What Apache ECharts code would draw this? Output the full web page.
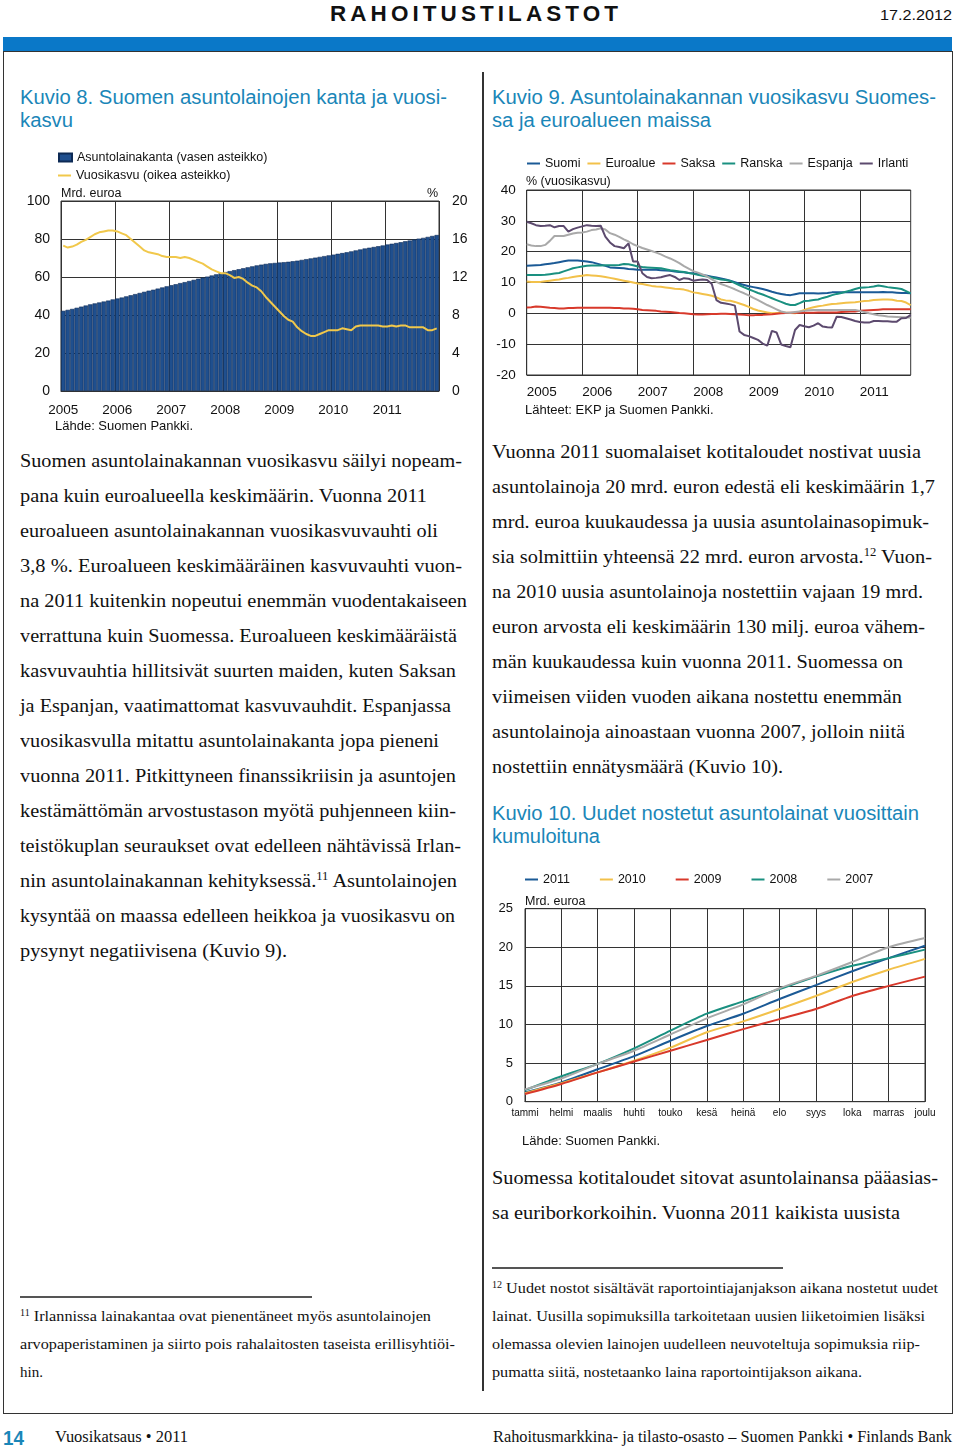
<!DOCTYPE html>
<html><head><meta charset="utf-8">
<script src="https://cdn.jsdelivr.net/npm/echarts@6/dist/echarts.min.js"></script>
<style>
html,body{margin:0;padding:0;background:#fff;}
#page{position:relative;width:960px;height:1450px;overflow:hidden;background:#fff;}
.ln{position:absolute;white-space:nowrap;transform-origin:0 50%;color:#111;}
.hdr{font-family:'Liberation Sans',Arial,sans-serif;font-weight:bold;font-size:22px;letter-spacing:4px;color:#111;}
.date{font-family:'Liberation Sans',Arial,sans-serif;font-size:15px;}
.ttl{font-family:'Liberation Sans',Arial,sans-serif;font-size:19.5px;color:#1a86b8;}
.body{font-family:'Liberation Serif','Times New Roman',serif;font-size:19.5px;}
.fn{font-family:'Liberation Serif','Times New Roman',serif;font-size:15px;}
.foot{font-family:'Liberation Serif','Times New Roman',serif;font-size:17px;}
.pgno{font-family:'Liberation Sans',Arial,sans-serif;font-weight:bold;font-size:21px;color:#1a86b8;}
sup{font-size:0.62em;vertical-align:0.55em;line-height:0;}
.chart{position:absolute;}
</style></head>
<body><div id="page">
<div style="position:absolute;left:3px;top:37px;width:949px;height:15px;background:#0a78c8;"></div>
<div style="position:absolute;left:3px;top:51px;width:950px;height:1363px;border:1px solid #333;box-sizing:border-box;"></div>
<div style="position:absolute;left:482px;top:72px;width:1.5px;height:1319px;background:#333;"></div>
<div style="position:absolute;left:20px;top:1296px;width:292px;height:1.5px;background:#555;"></div>
<div style="position:absolute;left:492px;top:1267px;width:291px;height:1.5px;background:#555;"></div>
<div id="c8" class="chart" style="left:0px;top:140px;width:480px;height:300px;"></div>
<div id="c9" class="chart" style="left:482px;top:140px;width:476px;height:290px;"></div>
<div id="c10" class="chart" style="left:482px;top:860px;width:476px;height:300px;"></div>
</div>
<script>
// ---------------- DATA ----------------
const YEARS = ['2005','2006','2007','2008','2009','2010','2011'];
// Kuvio 8: Asuntolainakanta (Mrd. euroa), monthly 2005-01 .. 2011-12
const loanStock = [
  42.2,42.7,43.2,43.8,44.4,45.0,45.6,46.1,46.6,47.1,47.6,48.2,
  48.7,49.2,49.8,50.4,51.0,51.6,52.2,52.8,53.3,53.9,54.5,55.1,
  55.7,56.2,56.8,57.3,57.9,58.5,59.1,59.7,60.2,60.8,61.4,62.0,
  62.6,63.1,63.6,64.1,64.6,65.1,65.6,66.1,66.5,66.9,67.2,67.4,
  67.6,67.8,68.0,68.3,68.6,69.0,69.4,69.8,70.2,70.6,71.0,71.4,
  71.8,72.2,72.6,73.0,73.5,74.0,74.5,75.0,75.4,75.8,76.2,76.6,
  77.1,77.5,77.9,78.3,78.8,79.2,79.7,80.2,80.6,81.1,81.6,82.1];
// Kuvio 8: Vuosikasvu (%)
const loanGrowth = [
  15.3,15.1,15.2,15.4,15.7,15.9,16.2,16.5,16.7,16.8,16.9,16.9,
  16.8,16.6,16.4,16.0,15.6,15.2,14.8,14.6,14.5,14.4,14.2,14.1,
  14.1,14.1,14.0,14.1,14.0,13.8,13.6,13.4,13.1,12.8,12.6,12.4,
  12.4,12.2,11.9,12.0,11.8,11.4,11.1,10.9,10.5,9.9,9.4,8.9,
  8.4,7.9,7.5,7.3,6.7,6.3,6.0,5.8,5.8,6.0,6.2,6.4,
  6.4,6.4,6.6,6.5,6.4,6.8,6.9,6.9,6.9,6.9,6.9,6.8,
  6.8,6.9,6.8,6.9,6.9,6.7,6.7,6.7,6.7,6.4,6.4,6.6];
// Kuvio 9: vuosikasvu (%), monthly 2005-01 .. 2011-12
const suomi = [
  15.4,15.5,15.6,15.7,15.9,16.1,16.3,16.6,16.9,17.1,17.1,17.1,
  17.0,16.8,16.6,16.2,15.8,15.4,14.9,14.8,14.7,14.6,14.4,14.3,
  14.1,14.1,14.1,14.1,14.1,14.0,13.9,13.8,13.6,13.4,13.3,13.1,
  13.0,12.7,12.4,12.2,11.9,11.6,11.3,11.0,10.6,10.1,9.6,9.2,
  8.8,8.5,8.2,7.9,7.5,7.0,6.6,6.3,6.0,5.9,6.2,6.5,
  6.5,6.5,6.5,6.4,6.5,6.6,6.8,6.8,6.8,6.8,6.8,6.8,
  6.8,6.8,6.8,6.8,6.8,6.9,6.8,6.8,6.7,6.6,6.6,6.5];
const euroalue = [
  10.3,10.2,10.2,10.2,10.4,10.6,10.8,11.0,11.3,11.5,11.8,12.0,
  12.2,12.4,12.3,12.2,12.0,11.8,11.5,11.2,10.9,10.6,10.3,10.0,
  9.7,9.5,9.2,8.9,8.7,8.6,8.4,8.2,8.0,7.9,7.7,7.3,
  6.8,6.6,6.3,6.0,5.7,5.2,4.5,4.2,4.1,3.7,3.2,2.7,
  2.1,1.4,0.9,0.6,0.3,0.0,0.1,0.2,0.2,0.1,0.0,0.5,
  1.1,1.6,2.0,2.3,2.5,2.8,3.0,3.1,3.3,3.4,3.5,3.6,
  3.8,4.0,4.1,4.3,4.4,4.5,4.5,4.4,4.1,4.0,3.5,2.7];
const saksa = [
  1.9,2.0,2.2,2.1,2.0,1.8,1.7,1.6,1.6,1.7,1.7,1.8,
  1.8,1.8,1.8,1.8,1.8,1.8,1.8,1.7,1.7,1.6,1.6,1.5,
  1.3,1.1,1.0,0.9,0.8,0.6,0.5,0.4,0.3,0.1,0.0,-0.1,
  -0.3,-0.4,-0.4,-0.3,-0.2,-0.2,-0.1,-0.1,-0.2,-0.3,-0.4,-0.5,
  -0.6,-0.6,-0.5,-0.5,-0.4,-0.3,-0.1,0.0,0.1,0.2,0.2,0.2,
  0.2,0.2,0.2,0.3,0.3,0.3,0.3,0.3,0.4,0.5,0.6,0.6,
  0.8,0.9,1.0,1.1,1.2,1.3,1.3,1.3,1.3,1.3,1.3,1.3];
const ranska = [
  12.4,12.4,12.4,12.4,12.5,12.7,12.9,13.1,13.6,14.1,14.6,14.9,
  15.2,15.4,15.5,15.5,15.5,15.6,15.6,15.6,15.7,16.0,15.9,15.6,
  15.2,15.0,14.9,14.8,14.7,14.6,14.3,14.0,13.8,13.6,13.4,13.1,
  12.8,12.5,12.2,11.9,11.6,11.3,11.0,10.8,10.5,9.8,9.1,8.4,
  7.8,7.2,6.6,6.1,5.5,4.9,4.3,3.7,3.1,2.7,2.7,3.3,
  4.0,4.1,4.3,4.5,5.0,5.4,5.9,6.3,6.6,7.0,7.4,7.9,
  8.3,8.4,8.5,8.7,9.0,8.8,8.5,8.3,8.1,7.9,7.2,6.5];
const espanja = [
  22.4,22.0,21.8,21.8,22.2,23.5,25.1,25.1,25.1,25.5,25.9,26.1,
  26.2,26.5,27.0,27.2,27.6,27.2,26.0,25.5,24.8,24.0,23.3,22.4,
  21.8,21.2,20.7,20.2,19.7,19.1,18.4,17.8,17.1,16.3,15.3,14.5,
  13.7,13.2,12.6,12.0,11.0,10.2,9.5,9.0,8.4,7.8,7.1,6.5,
  5.8,5.0,4.3,3.5,2.7,2.0,1.3,0.6,0.3,0.2,0.4,0.6,
  0.8,1.0,1.1,1.1,1.1,1.1,1.1,1.1,1.1,1.1,1.1,1.1,
  0.8,0.4,0.0,-0.3,-0.6,-0.8,-1.0,-1.1,-1.2,-1.3,-1.3,-1.4];
const irlanti = [
  29.7,29.2,28.6,28.3,28.4,28.6,27.9,28.3,28.3,26.5,27.3,27.8,
  28.2,28.6,28.4,28.3,28.4,24.9,23.0,21.8,21.5,21.1,22.7,16.8,
  16.8,13.0,11.8,11.4,11.5,11.7,12.1,12.4,11.8,10.8,11.4,11.2,
  10.6,10.8,11.0,10.8,9.5,4.3,3.4,3.2,2.9,2.5,-5.9,-7.0,
  -7.4,-8.0,-8.6,-9.8,-10.5,-5.7,-6.2,-10.1,-10.6,-11.0,-5.4,-3.8,
  -4.2,-4.5,-4.0,-3.2,-4.3,-4.5,-4.6,-1.1,-1.2,-1.6,-2.0,-2.5,
  -2.8,-3.0,-3.0,-2.5,-2.5,-2.6,-2.6,-2.7,-2.7,-1.6,-1.5,-0.5];
// Kuvio 10: kumulatiiviset nostot (Mrd. euroa)
const MONTHS_FI = ['tammi','helmi','maalis','huhti','touko','kesä','heinä','elo','syys','loka','marras','joulu'];
const y2011 = [1.2,2.5,4.2,5.9,7.9,9.8,11.4,13.3,15.1,16.9,18.6,20.2];
const y2010 = [1.1,2.4,3.8,5.3,7.0,9.0,10.4,12.0,13.7,15.5,17.1,18.5];
const y2009 = [1.0,2.3,3.8,5.2,6.6,8.0,9.4,10.7,12.0,13.7,15.0,16.2];
const y2008 = [1.5,3.3,4.9,6.9,9.2,11.4,13.0,14.6,16.2,17.6,18.6,19.7];
const y2007 = [1.6,3.0,4.9,6.6,8.7,10.8,12.6,14.7,16.3,18.1,20.0,21.2];

// ---------------- TEXT ----------------
const TXT_LEFT = [
 'Suomen asuntolainakannan vuosikasvu säilyi nopeam-',
 'pana kuin euroalueella keskimäärin. Vuonna 2011',
 'euroalueen asuntolainakannan vuosikasvuvauhti oli',
 '3,8 %. Euroalueen keskimääräinen kasvuvauhti vuon-',
 'na 2011 kuitenkin nopeutui enemmän vuodentakaiseen',
 'verrattuna kuin Suomessa. Euroalueen keskimääräistä',
 'kasvuvauhtia hillitsivät suurten maiden, kuten Saksan',
 'ja Espanjan, vaatimattomat kasvuvauhdit. Espanjassa',
 'vuosikasvulla mitattu asuntolainakanta jopa pieneni',
 'vuonna 2011. Pitkittyneen finanssikriisin ja asuntojen',
 'kestämättömän arvostustason myötä puhjenneen kiin-',
 'teistökuplan seuraukset ovat edelleen nähtävissä Irlan-',
 'nin asuntolainakannan kehityksessä.<sup>11</sup> Asuntolainojen',
 'kysyntää on maassa edelleen heikkoa ja vuosikasvu on',
 'pysynyt negatiivisena (Kuvio 9).'];
const TXT_LEFT_END = [462,427,438,462,467,457,456,451,439,456,456,461,457,455,287];
const TXT_RIGHT = [
 'Vuonna 2011 suomalaiset kotitaloudet nostivat uusia',
 'asuntolainoja 20 mrd. euron edestä eli keskimäärin 1,7',
 'mrd. euroa kuukaudessa ja uusia asuntolainasopimuk-',
 'sia solmittiin yhteensä 22 mrd. euron arvosta.<sup>12</sup> Vuon-',
 'na 2010 uusia asuntolainoja nostettiin vajaan 19 mrd.',
 'euron arvosta eli keskimäärin 130 milj. euroa vähem-',
 'män kuukaudessa kuin vuonna 2011. Suomessa on',
 'viimeisen viiden vuoden aikana nostettu enemmän',
 'asuntolainoja ainoastaan vuonna 2007, jolloin niitä',
 'nostettiin ennätysmäärä (Kuvio 10).'];
const TXT_RIGHT_END = [921,935,929,932,923,925,903,902,905,783];
const TXT_RIGHT2 = ['Suomessa kotitaloudet sitovat asuntolainansa pääasias-','sa euriborkorkoihin. Vuonna 2011 kaikista uusista'];
const TXT_RIGHT2_END = [938,900];
const FN_LEFT = ['<sup>11</sup> Irlannissa lainakantaa ovat pienentäneet myös asuntolainojen',
 'arvopaperistaminen ja siirto pois rahalaitosten taseista erillisyhtiöi-','hin.'];
const FN_LEFT_END = [431,455,null];
const FN_RIGHT = ['<sup>12</sup> Uudet nostot sisältävät raportointiajanjakson aikana nostetut uudet',
 'lainat. Uusilla sopimuksilla tarkoitetaan uusien liiketoimien lisäksi',
 'olemassa olevien lainojen uudelleen neuvoteltuja sopimuksia riip-',
 'pumatta siitä, nostetaanko laina raportointijakson aikana.'];
const FN_RIGHT_END = [938,925,920,862];

const page = document.getElementById('page');
function put(html, x, cy, endX, cls) {
  const d = document.createElement('div');
  d.className = 'ln ' + cls;
  d.innerHTML = html;
  page.appendChild(d);
  const fs = parseFloat(getComputedStyle(d).fontSize);
  const lh = Math.round(fs * 1.3);
  d.style.lineHeight = lh + 'px';
  d.style.left = x + 'px';
  d.style.top = (cy - lh / 2) + 'px';
  if (endX) {
    const aw = d.getBoundingClientRect().width;
    let s = (endX - x) / aw;
    s = Math.max(0.85, Math.min(1.15, s));
    d.style.transform = 'scaleX(' + s.toFixed(4) + ')';
  }
}
put('RAHOITUSTILASTOT', 330, 13, 622, 'hdr');
put('17.2.2012', 880, 15, 952, 'date');
put('Kuvio 8. Suomen asuntolainojen kanta ja vuosi-', 20, 97, 447, 'ttl');
put('kasvu', 20, 120, 73, 'ttl');
put('Kuvio 9. Asuntolainakannan vuosikasvu Suomes-', 492, 97, 936, 'ttl');
put('sa ja euroalueen maissa', 492, 120, 711, 'ttl');
put('Kuvio 10. Uudet nostetut asuntolainat vuosittain', 492, 813, 919, 'ttl');
put('kumuloituna', 492, 836, 600, 'ttl');
TXT_LEFT.forEach((t, i) => put(t, 20, 460 + 35 * i, TXT_LEFT_END[i], 'body'));
TXT_RIGHT.forEach((t, i) => put(t, 492, 451 + 35 * i, TXT_RIGHT_END[i], 'body'));
TXT_RIGHT2.forEach((t, i) => put(t, 492, 1177 + 35 * i, TXT_RIGHT2_END[i], 'body'));
FN_LEFT.forEach((t, i) => put(t, 20, 1316 + 28 * i, FN_LEFT_END[i], 'fn'));
FN_RIGHT.forEach((t, i) => put(t, 492, 1288 + 28 * i, FN_RIGHT_END[i], 'fn'));
put('14', 3, 1437, 24, 'pgno');
put('Vuosikatsaus • 2011', 55, 1437, 188, 'foot');
put('Rahoitusmarkkina- ja tilasto-osasto – Suomen Pankki • Finlands Bank', 493, 1437, 952, 'foot');

// ---------------- CHARTS ----------------
const FONT = "'Liberation Sans', Arial, sans-serif";
const monthCats = [];
YEARS.forEach(y => { for (let m = 1; m <= 12; m++) monthCats.push(y + '-' + (m < 10 ? '0' : '') + m); });
const GRID = '#333';
const yearFmt = v => (v.slice(5) === '01' ? v.slice(0, 4) : '');

// Kuvio 8
const c8 = echarts.init(document.getElementById('c8'), null, {renderer: 'canvas'});
c8.setOption({
  animation: false,
  textStyle: {fontFamily: FONT},
  legend: [
    {left: 58, top: 11, padding: 0, itemWidth: 13, itemHeight: 8, icon: 'rect',
     textStyle: {fontSize: 12.5, color: '#111', fontFamily: FONT},
     data: ['Asuntolainakanta (vasen asteikko)']},
    {left: 58, top: 29, padding: 0, itemWidth: 13, itemHeight: 2, icon: 'rect',
     textStyle: {fontSize: 12.5, color: '#111', fontFamily: FONT},
     data: ['Vuosikasvu (oikea asteikko)']}
  ],
  grid: {left: 61, top: 61, width: 378, height: 190, show: true, borderColor: GRID, borderWidth: 1, backgroundColor: 'transparent'},
  xAxis: {
    type: 'category', data: monthCats, boundaryGap: true,
    axisLine: {lineStyle: {color: GRID}}, axisTick: {show: false},
    axisLabel: {interval: 11, formatter: yearFmt, fontSize: 13.5, color: '#111', margin: 12, fontFamily: FONT},
    splitLine: {show: true, interval: 11, lineStyle: {color: GRID, width: 1}}
  },
  yAxis: [
    {type: 'value', min: 0, max: 100, interval: 20, axisLine: {show: false}, axisTick: {show: false},
     axisLabel: {fontSize: 14, color: '#111', margin: 11, fontFamily: FONT}, splitLine: {lineStyle: {color: GRID, width: 1}}},
    {type: 'value', min: 0, max: 20, interval: 4, position: 'right', axisLine: {show: false}, axisTick: {show: false},
     axisLabel: {fontSize: 14, color: '#111', margin: 13, fontFamily: FONT}, splitLine: {show: false}}
  ],
  series: [
    {name: 'Asuntolainakanta (vasen asteikko)', type: 'bar', yAxisIndex: 0, data: loanStock, barCategoryGap: '0%',
     itemStyle: {color: '#1f4f8e', borderColor: '#0d2a55', borderWidth: 0.6}},
    {name: 'Vuosikasvu (oikea asteikko)', type: 'line', yAxisIndex: 1, data: loanGrowth, symbol: 'none', z: 5,
     lineStyle: {color: '#f1c84b', width: 2}, itemStyle: {color: '#f1c84b'}}
  ],
  graphic: [
    {type: 'text', left: 61, top: 47, style: {text: 'Mrd. euroa', fontSize: 12.5, fill: '#111', fontFamily: FONT}},
    {type: 'text', right: 480 - 438, top: 47, style: {text: '%', fontSize: 12.5, fill: '#111', fontFamily: FONT}},
    {type: 'text', left: 55, top: 280, style: {text: 'Lähde: Suomen Pankki.', fontSize: 13, fill: '#111', fontFamily: FONT}}
  ]
});

// Kuvio 9
const c9 = echarts.init(document.getElementById('c9'), null, {renderer: 'canvas'});
const ser9 = [
  ['Suomi', suomi, '#1b5a96'], ['Euroalue', euroalue, '#f2c14a'], ['Saksa', saksa, '#d8392b'],
  ['Ranska', ranska, '#1a9080'], ['Espanja', espanja, '#a9a9a9'], ['Irlanti', irlanti, '#5c4a6e']];
c9.setOption({
  animation: false,
  textStyle: {fontFamily: FONT},
  legend: {left: 45, top: 17, padding: 0, itemWidth: 13, itemHeight: 2, icon: 'rect', itemGap: 7,
    textStyle: {fontSize: 12.5, color: '#111', fontFamily: FONT}, data: ser9.map(s => s[0])},
  grid: {left: 44.7, top: 50, width: 384, height: 185, show: true, borderColor: GRID, borderWidth: 1},
  xAxis: {
    type: 'category', data: monthCats, boundaryGap: false,
    axisLine: {lineStyle: {color: GRID}}, axisTick: {show: false},
    axisLabel: {interval: 11, formatter: yearFmt, fontSize: 13.5, color: '#111', margin: 10, align: 'left', fontFamily: FONT},
    splitLine: {show: true, interval: 11, lineStyle: {color: GRID, width: 1}}
  },
  yAxis: {type: 'value', min: -20, max: 40, interval: 10, axisLine: {show: false}, axisTick: {show: false},
    axisLabel: {fontSize: 13.5, color: '#111', margin: 11, fontFamily: FONT}, splitLine: {lineStyle: {color: GRID, width: 1}}},
  series: ser9.map(s => ({name: s[0], type: 'line', data: s[1], symbol: 'none',
    lineStyle: {color: s[2], width: 2}, itemStyle: {color: s[2]}})),
  graphic: [
    {type: 'text', left: 44, top: 35, style: {text: '% (vuosikasvu)', fontSize: 12.5, fill: '#111', fontFamily: FONT}},
    {type: 'text', left: 43, top: 264, style: {text: 'Lähteet: EKP ja Suomen Pankki.', fontSize: 13, fill: '#111', fontFamily: FONT}}
  ]
});

// Kuvio 10
const c10 = echarts.init(document.getElementById('c10'), null, {renderer: 'canvas'});
const ser10 = [['2011', y2011, '#1b5a96'], ['2010', y2010, '#f2c14a'], ['2009', y2009, '#d8392b'],
  ['2008', y2008, '#1a9080'], ['2007', y2007, '#a9a9a9']];
c10.setOption({
  animation: false,
  textStyle: {fontFamily: FONT},
  legend: {left: 43, top: 13, padding: 0, itemWidth: 13, itemHeight: 2, icon: 'rect', itemGap: 30,
    textStyle: {fontSize: 12.5, color: '#111', fontFamily: FONT}, data: ser10.map(s => s[0])},
  grid: {left: 43, top: 48.7, width: 400, height: 193, show: true, borderColor: GRID, borderWidth: 1},
  xAxis: {
    type: 'category', data: MONTHS_FI, boundaryGap: false,
    axisLine: {lineStyle: {color: GRID}}, axisTick: {show: false},
    axisLabel: {interval: 0, fontSize: 10, color: '#111', margin: 7, fontFamily: FONT},
    splitLine: {show: true, interval: 0, lineStyle: {color: GRID, width: 1}}
  },
  yAxis: {type: 'value', min: 0, max: 25, interval: 5, axisLine: {show: false}, axisTick: {show: false},
    axisLabel: {fontSize: 13, color: '#111', margin: 12, fontFamily: FONT}, splitLine: {lineStyle: {color: GRID, width: 1}}},
  series: ser10.map(s => ({name: s[0], type: 'line', data: s[1], symbol: 'none', smooth: 0.25,
    lineStyle: {color: s[2], width: 2}, itemStyle: {color: s[2]}})),
  graphic: [
    {type: 'text', left: 43, top: 35, style: {text: 'Mrd. euroa', fontSize: 12.5, fill: '#111', fontFamily: FONT}},
    {type: 'text', left: 40, top: 275, style: {text: 'Lähde: Suomen Pankki.', fontSize: 13, fill: '#111', fontFamily: FONT}}
  ]
});
</script>
</body></html>
